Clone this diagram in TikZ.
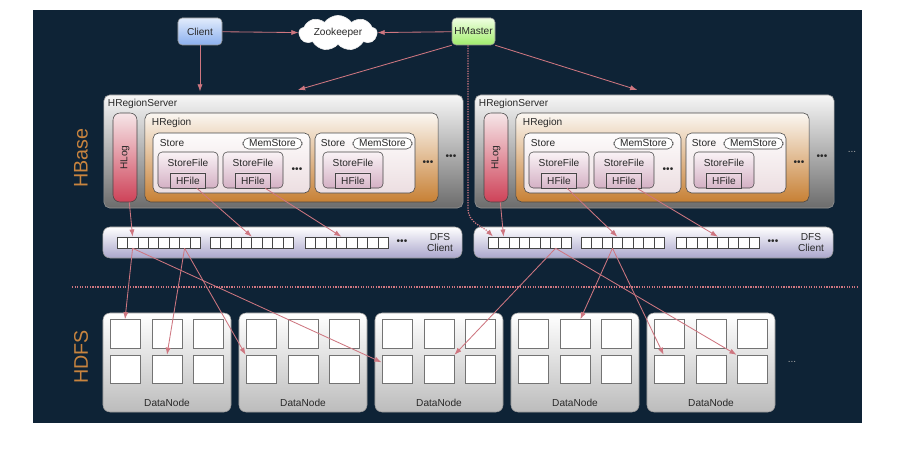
\documentclass[tikz,border=0pt]{standalone}
\usepackage{fontspec}
\setmainfont{Liberation Sans}
\usetikzlibrary{positioning,arrows.meta,calc,shapes.symbols}
\definecolor{fignavy}{RGB}{14,35,54}
\definecolor{figpink}{RGB}{206,118,128}
\definecolor{figorange}{RGB}{200,132,63}
\definecolor{figedge}{RGB}{70,70,70}
\definecolor{figrim}{RGB}{150,150,150}
\definecolor{figtext}{RGB}{40,40,40}
\definecolor{figclienttop}{RGB}{226,236,252}
\definecolor{figclientbot}{RGB}{138,175,238}
\definecolor{figmastertop}{RGB}{240,255,226}
\definecolor{figmasterbot}{RGB}{160,236,108}
\definecolor{figsrvtop}{RGB}{246,246,246}
\definecolor{figsrvbot}{RGB}{108,108,108}
\definecolor{figlogtop}{RGB}{246,230,232}
\definecolor{figlogbot}{RGB}{206,66,88}
\definecolor{figregtop}{RGB}{251,247,242}
\definecolor{figregbot}{RGB}{199,128,52}
\definecolor{figstoretop}{RGB}{253,251,251}
\definecolor{figstorebot}{RGB}{236,222,225}
\definecolor{figsftop}{RGB}{250,243,246}
\definecolor{figsfbot}{RGB}{212,176,196}
\definecolor{fighftop}{RGB}{236,214,226}
\definecolor{fighfbot}{RGB}{214,182,200}
\definecolor{figdfsbot}{RGB}{170,166,204}
\definecolor{figdnbot}{RGB}{188,188,188}
\tikzset{
  fig/.style={x=0.025cm,y=-0.025cm,font=\fontsize{7.2}{8.5}\selectfont,text=figtext},
  box/.style={draw=figedge,line width=0.4pt,rounded corners=3pt,inner sep=1pt,align=center},
  clientbox/.style={box,draw=figrim,minimum width=1.1cm,minimum height=0.675cm,
                    top color=figclienttop,bottom color=figclientbot},
  masterbox/.style={box,draw=figrim,minimum width=1.075cm,minimum height=0.675cm,
                    top color=figmastertop,bottom color=figmasterbot},
  zkcloud/.style={cloud,draw=white!85!gray,fill=white,cloud puffs=9,cloud puff arc=110,aspect=2.8,
                  minimum width=1.95cm,minimum height=0.7cm,inner sep=0pt},
  srvbox/.style={box,draw=figrim,rounded corners=4pt,minimum width=8.975cm,minimum height=2.825cm,
                 top color=figsrvtop,bottom color=figsrvbot},
  logbox/.style={box,rounded corners=5pt,minimum width=0.6cm,minimum height=2.225cm,
                 top color=figlogtop,bottom color=figlogbot},
  regbox/.style={box,rounded corners=4pt,minimum width=7.325cm,minimum height=2.225cm,
                 top color=figregtop,bottom color=figregbot},
  storebox/.style={box,rounded corners=4pt,minimum height=1.5cm,
                   top color=figstoretop,bottom color=figstorebot},
  sfbox/.style={box,minimum width=1.5cm,minimum height=0.9cm,
                top color=figsftop,bottom color=figsfbot},
  hfbox/.style={draw=figedge,line width=0.4pt,minimum width=0.875cm,minimum height=0.375cm,
                inner sep=0pt,top color=fighftop,bottom color=fighfbot},
  memtag/.style={draw=figedge,line width=0.4pt,fill=white,rounded corners=4pt,
                 minimum width=1.475cm,minimum height=0.275cm,inner sep=0pt},
  dfsbox/.style={box,draw=figrim,rounded corners=5pt,minimum width=8.975cm,minimum height=0.775cm,
                 top color=white,bottom color=figdfsbot},
  cell/.style={draw=figedge,line width=0.4pt,fill=white,minimum width=0.26cm,
               minimum height=0.275cm,inner sep=0pt},
  dnbox/.style={box,draw=figrim,rounded corners=5pt,minimum width=3.2cm,minimum height=2.475cm,
                top color=white,bottom color=figdnbot},
  sq/.style={draw=black!55,line width=0.6pt,fill=white,minimum width=0.75cm,
             minimum height=0.7125cm,inner sep=0pt},
  txt/.style={inner sep=0.5pt},
  dots/.style={inner sep=0pt},
  side/.style={text=figorange,font=\fontsize{14}{14}\selectfont,rotate=90,inner sep=0pt},
  ln/.style={-{Latex[length=1.8mm,width=1.3mm]},draw=figpink,line width=0.6pt},
  dotln/.style={draw=figpink,dash pattern=on 0.9pt off 0.9pt,line width=0.9pt},
}
\begin{document}
\begin{tikzpicture}[fig]
\useasboundingbox (0,0) rectangle (901,465);
\fill[fignavy] (33,10) rectangle (862,423);

% --- master side
\node[clientbox] (cl) at (200,31.5) {Client};
\node[zkcloud] (zk) at (338,33) {Zookeeper};
\node[masterbox] (hm) at (473.5,31.5) {HMaster};

\node[side] (hbase) at (81,158) {HBase};
\node[side] (hdfs) at (81,357) {HDFS};

% --- border between HBase and HDFS
\coordinate (sepl) at (72,287);
\coordinate (sepr) at (858,287);
\draw[dotln] (sepl) -- (sepr);

% --- region servers
\foreach \s/\o in {1/0,2/371}{
  \node[srvbox] (hrs\s) at (283.5+\o,151.5) {};
  \node[txt,anchor=west] (hrst\s) at (107+\o,104) {HRegionServer};
  \node[logbox] (hlog\s) at (125+\o,157.5) {};
  \node[txt,rotate=90] (hlogt\s) at (hlog\s) {HLog};
  \node[regbox] (hreg\s) at (291.5+\o,157.5) {};
  \node[txt,anchor=west] (hregt\s) at (151+\o,123) {HRegion};
  % first store
  \node[storebox,minimum width=3.925cm] (sta\s) at (231.5+\o,163) {};
  \node[txt,anchor=west] (stat\s) at (159+\o,143) {Store};
  \node[memtag] (mema\s) at (272.5+\o,143.5) {MemStore};
  \node[sfbox] (sfa\s) at (188+\o,170) {};
  \node[sfbox] (sfb\s) at (253+\o,170) {};
  \node[dots] (dta\s) at (297+\o,170) {\textbullet\textbullet\textbullet};
  % second store
  \node[storebox,minimum width=2.5cm] (stb\s) at (365+\o,163) {};
  \node[txt,anchor=west] (stbt\s) at (320+\o,143) {Store};
  \node[memtag] (memb\s) at (382.5+\o,143.5) {MemStore};
  \node[sfbox] (sfc\s) at (353+\o,170) {};
  \foreach \f in {a,b,c}{
    \node[txt] (sft\f\s) at ([yshift=-0.275cm]sf\f\s.north) {StoreFile};
    \node[hfbox,anchor=south] (hf\f\s) at (sf\f\s.south) {HFile};
  }
  \node[dots] (dtb\s) at (428+\o,163) {\textbullet\textbullet\textbullet};
  \node[dots] (dtc\s) at (451+\o,157) {\textbullet\textbullet\textbullet};
}
\node[dots,text=gray!70] (dtsrv) at (852,152) {...};

% --- DFS clients
\foreach \s/\o in {1/0,2/371}{
  \node[dfsbox] (dfs\s) at (282.5+\o,242.5) {};
  \foreach \g/\gx in {1/117,2/210,3/305}
    \foreach \c in {1,...,8}
      \node[cell] (d\s-\g-\c) at ({\gx+\o+(\c-0.5)*10.4},242.5) {};
  \node[dots] (dfsd\s) at (402+\o,242) {\textbullet\textbullet\textbullet};
  \node[txt,align=center] (dfst\s) at (440+\o,242.5) {DFS\\Client};
}

% --- data nodes
\foreach \i in {1,...,5}{
  \node[dnbox] (dn\i) at ({167+136*(\i-1)},362.5) {};
  \node[txt] (dnt\i) at ([yshift=0.225cm]dn\i.south) {DataNode};
  \foreach \r/\ry in {1/334,2/369.5}
    \foreach \c/\cx in {1/-42,2/0,3/41}
      \node[sq] (dn\i-\r-\c) at ({167+136*(\i-1)+\cx},\ry) {};
}
\node[dots,text=gray!70] (dtdn) at (792,362) {...};

% --- connectors
\draw[ln] (cl) -- (zk);
\draw[ln] (hm) -- (zk);
\draw[ln] (cl) -- ([yshift=0.08cm]cl |- hrs1.north);
\draw[ln] (hm.south west) -- ([xshift=0.36cm,yshift=0.12cm]hrs1.north);
\draw[ln] (hm.south east) -- ([xshift=-0.43cm,yshift=0.12cm]hrs2.north);

\coordinate (hmx) at ([xshift=-0.1375cm]hm.south);
\draw[dotln,-{Latex[length=1.8mm,width=1.3mm]}] (hmx) -- (hmx |- hrs2.south)
  to[out=-90,in=135] (d2-1-1.north);

\draw[ln] (hlog1) -- (d1-1-2.north);
\draw[ln] (hfa1) -- (d1-2-4.north east);
\draw[ln] (hfb1) -- (d1-3-4.north);
\draw[ln] (hlog2) -- (d2-1-2.north);
\draw[ln] (hfa2) -- (d2-2-4.north);
\draw[ln] (hfb2) -- (d2-3-4.north east);

\draw[ln] (d1-1-2.south) -- (dn1-1-1.north);
\draw[ln] (d1-1-2.south) -- (dn3-2-1.155);
\draw[ln] (d1-1-7.south) -- (dn1-2-2.north);
\draw[ln] (d1-1-7.south) -- (dn2-2-1.north west);
\draw[ln] (d2-1-7.south) -- (dn3-2-2.north east);
\draw[ln] (d2-1-7.south) -- (dn5-2-3.north west);
\draw[ln] (d2-2-3.south east) -- (dn4-1-2.70);
\draw[ln] (d2-2-3.south east) -- (dn5-2-1.110);

\end{tikzpicture}
\end{document}
